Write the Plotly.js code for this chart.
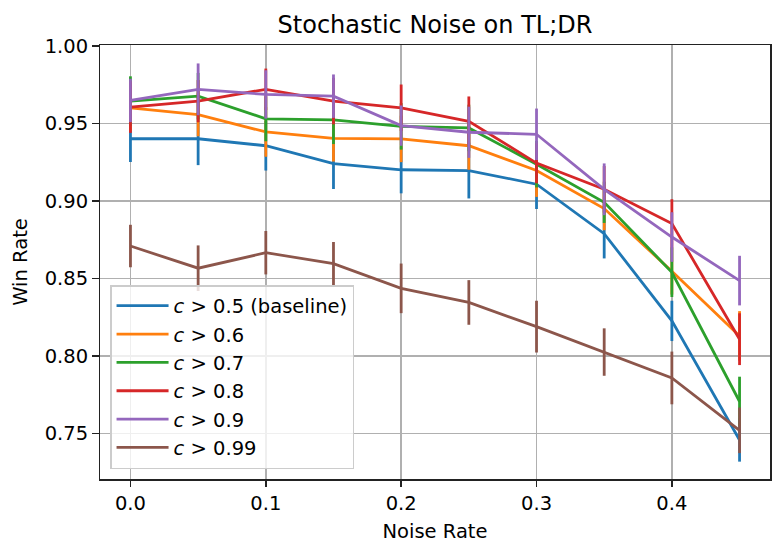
<!DOCTYPE html>
<html>
<head>
<meta charset="utf-8">
<script src="https://cdn.plot.ly/plotly-3.0.1.min.js"></script>
<style>
  html, body { margin: 0; padding: 0; background: #fff; }
  #chart { width: 783px; height: 554px; }
</style>
</head>
<body>
<div id="chart"></div>
<script>
// Noise rates on the x axis
const noiseRates = [0.0, 0.05, 0.1, 0.15, 0.2, 0.25, 0.3, 0.35, 0.4, 0.45];

// Series labels and colours
const seriesNames = [
    '<i>c</i> > 0.5 (baseline)',
    '<i>c</i> > 0.6',
    '<i>c</i> > 0.7',
    '<i>c</i> > 0.8',
    '<i>c</i> > 0.9',
    '<i>c</i> > 0.99'
];
const seriesColors = ['#1f77b4', '#ff7f0e', '#2ca02c', '#d62728', '#9467bd', '#8c564b'];

// Win rates
const winC050 = [0.940, 0.940, 0.9355, 0.924, 0.920, 0.9195, 0.9107, 0.8788, 0.8225, 0.7457];
const winC060 = [0.960, 0.9556, 0.9444, 0.9403, 0.9399, 0.9355, 0.9195, 0.895, 0.8545, 0.8128];
const winC070 = [0.9643, 0.9675, 0.9529, 0.9522, 0.948, 0.947, 0.9236, 0.899, 0.8539, 0.7705];
const winC080 = [0.9604, 0.9643, 0.9719, 0.9643, 0.960, 0.9513, 0.9243, 0.9074, 0.8853, 0.8107];
const winC090 = [0.9647, 0.9719, 0.9686, 0.9675, 0.9485, 0.9442, 0.9429, 0.9074, 0.8766, 0.8485];
const winC099 = [0.8708, 0.8565, 0.8665, 0.8594, 0.8435, 0.8344, 0.8188, 0.8024, 0.7857, 0.7519];

// Error bar half-lengths
const errC050 = [0.015, 0.017, 0.016, 0.0164, 0.0152, 0.018, 0.016, 0.016, 0.013, 0.014];
const errC060 = [0.015, 0.014, 0.016, 0.015, 0.015, 0.0155, 0.017, 0.014, 0.015, 0.016];
const errC070 = [0.016, 0.015, 0.0145, 0.0156, 0.015, 0.015, 0.015, 0.0133, 0.016, 0.016];
const errC080 = [0.0166, 0.0136, 0.0134, 0.015, 0.015, 0.016, 0.013, 0.015, 0.0157, 0.0167];
const errC090 = [0.014, 0.0167, 0.0156, 0.014, 0.013, 0.0165, 0.0166, 0.0167, 0.016, 0.016];
const errC099 = [0.0137, 0.0147, 0.014, 0.014, 0.016, 0.0144, 0.0167, 0.0153, 0.017, 0.0147];

const allWins = [winC050, winC060, winC070, winC080, winC090, winC099];
const allErrs = [errC050, errC060, errC070, errC080, errC090, errC099];

const traces = allWins.map(function(wins, i) {
    return {
        x: noiseRates,
        y: wins,
        type: 'scatter',
        mode: 'lines',
        name: seriesNames[i],
        line: { color: seriesColors[i], width: 2.8 },
        error_y: {
            type: 'data',
            array: allErrs[i],
            visible: true,
            color: seriesColors[i],
            thickness: 2.8,
            width: 0
        }
    };
});

const fontFamily = 'DejaVu Sans, sans-serif';
const axisFont = { family: fontFamily, size: 19.5, color: '#000' };

const layout = {
    width: 783,
    height: 554,
    paper_bgcolor: '#fff',
    plot_bgcolor: '#fff',
    margin: { l: 100, r: 13, t: 45, b: 75 },
    font: axisFont,
    title: {
        text: 'Stochastic Noise on TL;DR',
        font: { family: fontFamily, size: 24, color: '#000' },
        xref: 'paper', x: 0.5, xanchor: 'center',
        y: 0.955, yanchor: 'middle'
    },
    xaxis: {
        range: [-0.0225, 0.4725],
        tickvals: [0, 0.1, 0.2, 0.3, 0.4],
        tickformat: '.1f',
        ticks: 'outside', ticklen: 6.5, tickwidth: 1.5, tickcolor: '#222',
        showgrid: true, gridcolor: '#b0b0b0', gridwidth: 1.5,
        zeroline: false,
        showline: true, linecolor: '#222', linewidth: 1.5, mirror: true,
        tickfont: axisFont,
        title: { text: 'Noise Rate', font: axisFont, standoff: 10 }
    },
    yaxis: {
        range: [0.7205, 1.0005],
        tickvals: [0.75, 0.80, 0.85, 0.90, 0.95, 1.00],
        tickformat: '.2f',
        ticks: 'outside', ticklen: 6.5, tickwidth: 1.5, tickcolor: '#222',
        showgrid: true, gridcolor: '#b0b0b0', gridwidth: 1.5,
        zeroline: false,
        showline: true, linecolor: '#222', linewidth: 1.5, mirror: true,
        tickfont: axisFont,
        title: { text: 'Win Rate', font: axisFont, standoff: 12 }
    },
    legend: {
        x: 0.015, y: 0.023, xanchor: 'left', yanchor: 'bottom',
        bgcolor: 'rgba(255,255,255,0.8)',
        bordercolor: '#cccccc', borderwidth: 1.5,
        font: { family: fontFamily, size: 19.5, color: '#000' },
        tracegroupgap: 0,
        itemwidth: 52
    },
    showlegend: true
};

Plotly.newPlot('chart', traces, layout, { displayModeBar: false, staticPlot: true });
</script>
</body>
</html>
